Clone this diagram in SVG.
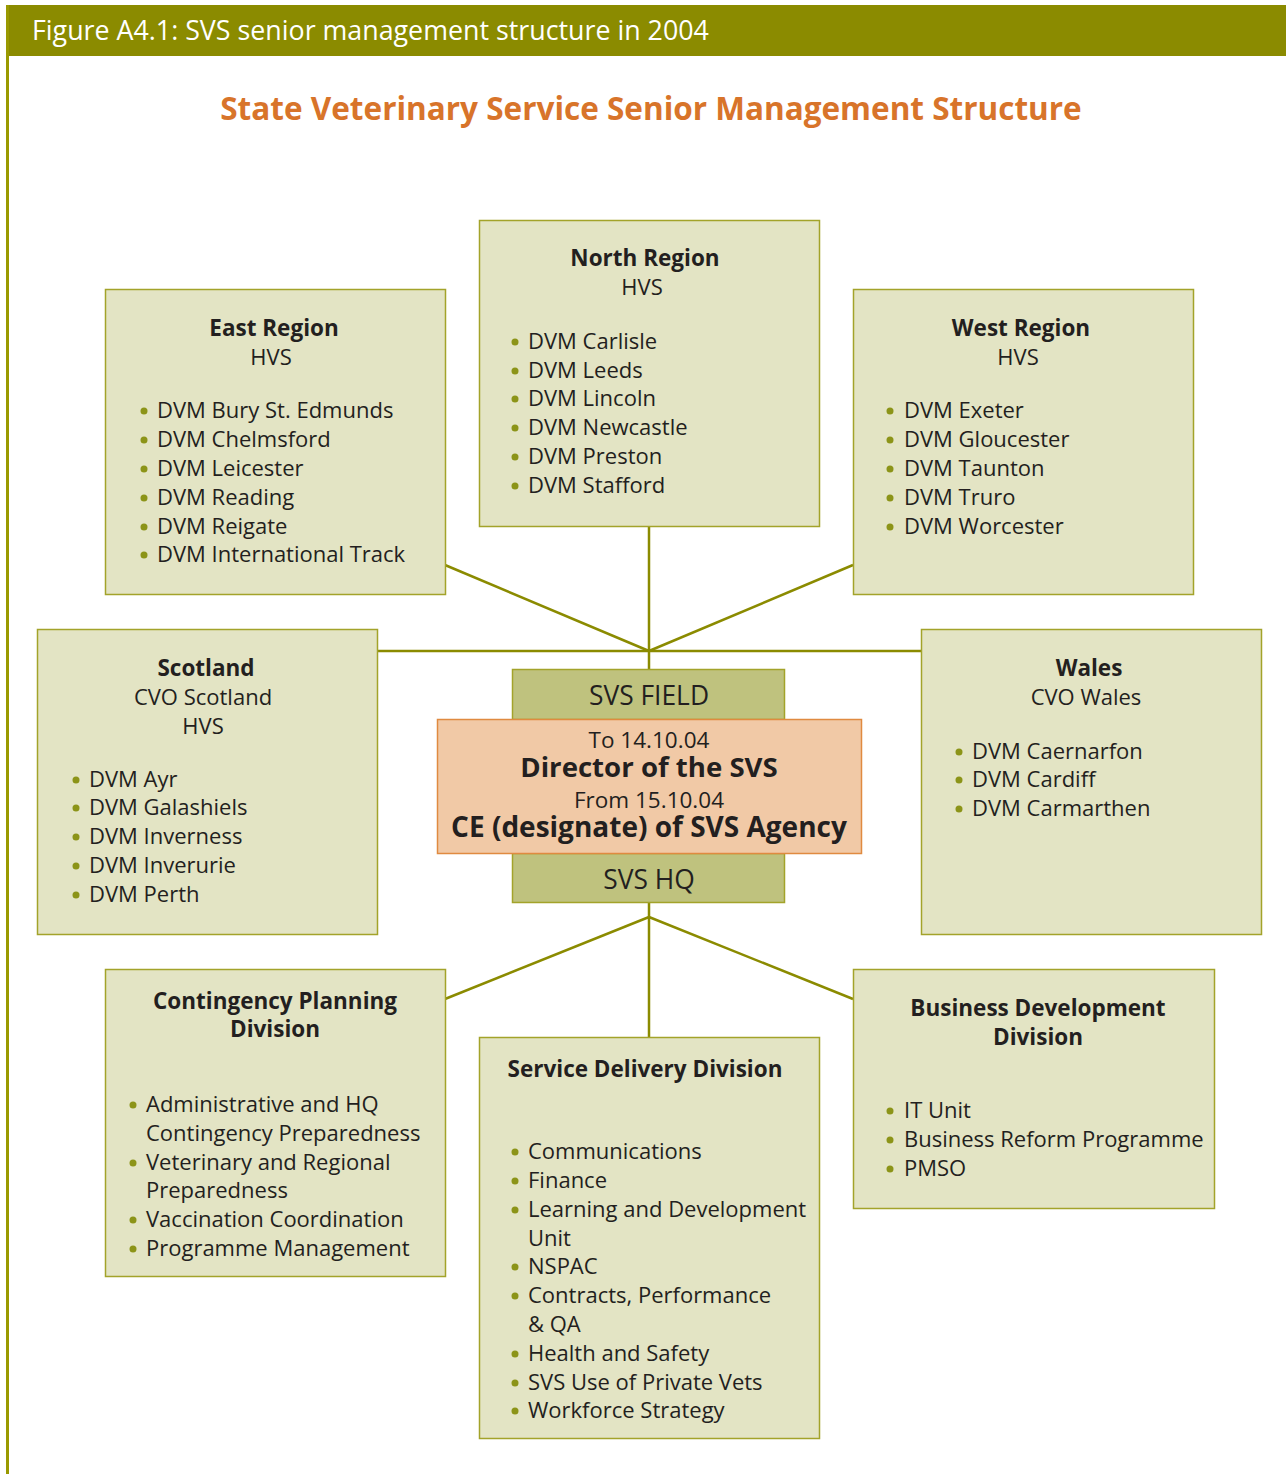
<svg xmlns="http://www.w3.org/2000/svg" width="1286" height="1474" viewBox="0 0 1286 1474">
<style>
text{font-family:"Open Sans","Noto Sans","Liberation Sans",sans-serif;fill:#231f20;}
.box{fill:#e3e4c4;stroke:#a3a32a;stroke-width:1.5;}
.hd{font-weight:bold;font-size:22.5px;text-anchor:middle;}
.sub{font-size:22px;text-anchor:middle;}
.it{font-size:22px;}
.bl{fill:#8c9418;}
.con{stroke:#8b8b00;stroke-width:2.5;fill:none;}
</style>
<defs>
<circle id="b" r="3.5" class="bl"/>
</defs>
<rect x="0" y="0" width="1286" height="1474" fill="#fff"/>
<rect x="6" y="5" width="1280" height="51" fill="#8b8b00"/>
<line x1="7.5" y1="5" x2="7.5" y2="1474" stroke="#999900" stroke-width="3"/>
<text x="32" y="40" style="font-size:26.8px;fill:#fff">Figure A4.1: SVS senior management structure in 2004</text>
<text x="651" y="120" style="font-size:31.5px;font-weight:bold;fill:#d8742a;text-anchor:middle">State Veterinary Service Senior Management Structure</text>

<g id="connectors">
<line class="con" x1="649" y1="527" x2="649" y2="669"/>
<line class="con" x1="377" y1="651" x2="921" y2="651"/>
<line class="con" x1="445" y1="565" x2="649" y2="651"/>
<line class="con" x1="853" y1="565" x2="649" y2="651"/>
<line class="con" x1="649" y1="903" x2="649" y2="1037"/>
<line class="con" x1="649" y1="917" x2="445" y2="999"/>
<line class="con" x1="649" y1="917" x2="853" y2="999"/>
</g>

<g id="north">
<rect class="box" x="479.5" y="220.5" width="340" height="306"/>
<text class="hd" x="645" y="266">North Region</text>
<text class="sub" x="642" y="295">HVS</text>
<use href="#b" x="515" y="342"/><text class="it" x="528" y="349">DVM Carlisle</text>
<use href="#b" x="515" y="371"/><text class="it" x="528" y="378">DVM Leeds</text>
<use href="#b" x="515" y="399"/><text class="it" x="528" y="406">DVM Lincoln</text>
<use href="#b" x="515" y="428"/><text class="it" x="528" y="435">DVM Newcastle</text>
<use href="#b" x="515" y="457"/><text class="it" x="528" y="464">DVM Preston</text>
<use href="#b" x="515" y="486"/><text class="it" x="528" y="493">DVM Stafford</text>
</g>

<g id="east">
<rect class="box" x="105.5" y="289.5" width="340" height="305"/>
<text class="hd" x="274" y="336">East Region</text>
<text class="sub" x="271" y="365">HVS</text>
<use href="#b" x="144" y="411"/><text class="it" x="157" y="418">DVM Bury St. Edmunds</text>
<use href="#b" x="144" y="440"/><text class="it" x="157" y="447">DVM Chelmsford</text>
<use href="#b" x="144" y="469"/><text class="it" x="157" y="476">DVM Leicester</text>
<use href="#b" x="144" y="498"/><text class="it" x="157" y="505">DVM Reading</text>
<use href="#b" x="144" y="527"/><text class="it" x="157" y="534">DVM Reigate</text>
<use href="#b" x="144" y="555"/><text class="it" x="157" y="562">DVM International Track</text>
</g>

<g id="west">
<rect class="box" x="853.5" y="289.5" width="340" height="305"/>
<text class="hd" x="1021" y="336">West Region</text>
<text class="sub" x="1018" y="365">HVS</text>
<use href="#b" x="890" y="411"/><text class="it" x="904" y="418">DVM Exeter</text>
<use href="#b" x="890" y="440"/><text class="it" x="904" y="447">DVM Gloucester</text>
<use href="#b" x="890" y="469"/><text class="it" x="904" y="476">DVM Taunton</text>
<use href="#b" x="890" y="498"/><text class="it" x="904" y="505">DVM Truro</text>
<use href="#b" x="890" y="527"/><text class="it" x="904" y="534">DVM Worcester</text>
</g>

<g id="scotland">
<rect class="box" x="37.5" y="629.5" width="340" height="305"/>
<text class="hd" x="206" y="676">Scotland</text>
<text class="sub" x="203" y="705">CVO Scotland</text>
<text class="sub" x="203" y="734">HVS</text>
<use href="#b" x="76" y="780"/><text class="it" x="89" y="787">DVM Ayr</text>
<use href="#b" x="76" y="808"/><text class="it" x="89" y="815">DVM Galashiels</text>
<use href="#b" x="76" y="837"/><text class="it" x="89" y="844">DVM Inverness</text>
<use href="#b" x="76" y="866"/><text class="it" x="89" y="873">DVM Inverurie</text>
<use href="#b" x="76" y="895"/><text class="it" x="89" y="902">DVM Perth</text>
</g>

<g id="wales">
<rect class="box" x="921.5" y="629.5" width="340" height="305"/>
<text class="hd" x="1089" y="676">Wales</text>
<text class="sub" x="1086" y="705">CVO Wales</text>
<use href="#b" x="959" y="752"/><text class="it" x="972" y="759">DVM Caernarfon</text>
<use href="#b" x="959" y="780"/><text class="it" x="972" y="787">DVM Cardiff</text>
<use href="#b" x="959" y="809"/><text class="it" x="972" y="816">DVM Carmarthen</text>
</g>

<g id="center">
<rect x="512.5" y="669.5" width="272" height="50" fill="#bfc27e" stroke="#a3a32a" stroke-width="1.5"/>
<text x="649" y="705" style="font-size:26.4px;text-anchor:middle">SVS FIELD</text>
<rect x="512.5" y="853.5" width="272" height="49" fill="#bfc27e" stroke="#a3a32a" stroke-width="1.5"/>
<text x="649" y="889" style="font-size:26.4px;text-anchor:middle">SVS HQ</text>
<rect x="437.5" y="719.5" width="424" height="134" fill="#f1c9a6" stroke="#e08a40" stroke-width="1.5"/>
<text x="649" y="748" style="font-size:22.5px;text-anchor:middle">To 14.10.04</text>
<text x="649" y="777" style="font-size:27.6px;font-weight:bold;text-anchor:middle">Director of the SVS</text>
<text x="649" y="808" style="font-size:22.5px;text-anchor:middle">From 15.10.04</text>
<text x="649" y="837" style="font-size:28px;font-weight:bold;text-anchor:middle">CE (designate) of SVS Agency</text>
</g>

<g id="contingency">
<rect class="box" x="105.5" y="969.5" width="340" height="307"/>
<text class="hd" x="275" y="1009">Contingency Planning</text>
<text class="hd" x="275" y="1037">Division</text>
<use href="#b" x="133" y="1105"/><text class="it" x="146" y="1112">Administrative and HQ</text>
<text class="it" x="146" y="1141">Contingency Preparedness</text>
<use href="#b" x="133" y="1163"/><text class="it" x="146" y="1170">Veterinary and Regional</text>
<text class="it" x="146" y="1198">Preparedness</text>
<use href="#b" x="133" y="1220"/><text class="it" x="146" y="1227">Vaccination Coordination</text>
<use href="#b" x="133" y="1249"/><text class="it" x="146" y="1256">Programme Management</text>
</g>

<g id="service">
<rect class="box" x="479.5" y="1037.5" width="340" height="401"/>
<text class="hd" x="645" y="1077">Service Delivery Division</text>
<use href="#b" x="515" y="1152"/><text class="it" x="528" y="1159">Communications</text>
<use href="#b" x="515" y="1181"/><text class="it" x="528" y="1188">Finance</text>
<use href="#b" x="515" y="1210"/><text class="it" x="528" y="1217">Learning and Development</text>
<text class="it" x="528" y="1246">Unit</text>
<use href="#b" x="515" y="1267"/><text class="it" x="528" y="1274">NSPAC</text>
<use href="#b" x="515" y="1296"/><text class="it" x="528" y="1303">Contracts, Performance</text>
<text class="it" x="528" y="1332">&amp; QA</text>
<use href="#b" x="515" y="1354"/><text class="it" x="528" y="1361">Health and Safety</text>
<use href="#b" x="515" y="1383"/><text class="it" x="528" y="1390">SVS Use of Private Vets</text>
<use href="#b" x="515" y="1411"/><text class="it" x="528" y="1418">Workforce Strategy</text>
</g>

<g id="business">
<rect class="box" x="853.5" y="969.5" width="361" height="239"/>
<text class="hd" x="1038" y="1016">Business Development</text>
<text class="hd" x="1038" y="1045">Division</text>
<use href="#b" x="890" y="1111"/><text class="it" x="904" y="1118">IT Unit</text>
<use href="#b" x="890" y="1140"/><text class="it" x="904" y="1147">Business Reform Programme</text>
<use href="#b" x="890" y="1169"/><text class="it" x="904" y="1176">PMSO</text>
</g>
</svg>
